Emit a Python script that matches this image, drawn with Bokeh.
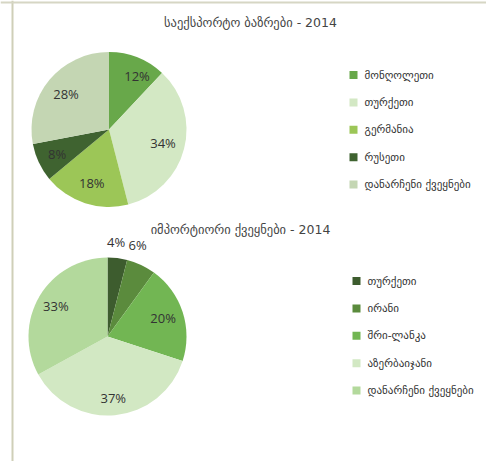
import math
from bokeh.plotting import figure
from bokeh.models import Range1d, Span
from bokeh.core.properties import value
from bokeh.embed import file_html
from bokeh.resources import INLINE

W, H = 486, 461

# ---- data ----
export_title = "საექსპორტო ბაზრები - 2014"
export_countries = ["მონღოლეთი", "თურქეთი", "გერმანია", "რუსეთი", "დანარჩენი ქვეყნები"]
export_shares = [12, 34, 18, 8, 28]
export_colors = ["#68a84a", "#d3e8c4", "#9cc657", "#3f6330", "#c4d6b3"]

import_title = "იმპორტიორი ქვეყნები - 2014"
import_countries = ["თურქეთი", "ირანი", "შრი-ლანკა", "აზერბაიჯანი", "დანარჩენი ქვეყნები"]
import_shares = [4, 6, 20, 37, 33]
import_colors = ["#3d5c2e", "#5b8b3d", "#72b653", "#d2e8c3", "#b3d99c"]

p = figure(width=W, height=H, x_range=Range1d(0, W), y_range=Range1d(0, H),
           output_backend="svg", toolbar_location=None, min_border=0)
p.axis.visible = False
p.grid.visible = False
p.outline_line_color = None
p.background_fill_color = "white"
p.border_fill_color = "white"

# frame lines
p.add_layout(Span(location=12, dimension="height", line_color="#cfcfb8", line_width=2))
p.add_layout(Span(location=H - 2, dimension="width", line_color="#d6d6c4", line_width=2))

FONT = "Open Sans"
GFONT = "DejaVu Sans"


def pie(cx, cy_screen, r, shares, colors, label_r, label_shift, title, title_xy,
        countries, leg_x, leg_y0, leg_dy):
    cy = H - cy_screen
    total = float(sum(shares))
    cum = 0.0
    starts, ends, lx, ly, labels = [], [], [], [], []
    for i, s in enumerate(shares):
        a0 = math.pi / 2 - 2 * math.pi * cum / total
        a1 = math.pi / 2 - 2 * math.pi * (cum + s) / total
        mid = (a0 + a1) / 2 + math.radians(label_shift[i])
        starts.append(a1)
        ends.append(a0)
        lr = label_r[i] * r
        lx.append(cx + lr * math.cos(mid))
        ly.append(cy + lr * math.sin(mid))
        labels.append(f"{s}%")
        cum += s
    p.wedge(x=[cx] * len(shares), y=[cy] * len(shares), radius=r,
            start_angle=starts, end_angle=ends, direction="anticlock",
            fill_color=colors, line_color=None)
    p.text(x=lx, y=ly, text=labels, text_align="center", text_baseline="middle",
           text_font=value(FONT), text_font_size="13px", text_color="#333333")
    p.text(x=[title_xy[0]], y=[H - title_xy[1]], text=[title], text_align="center",
           text_baseline="middle", text_font=value(GFONT), text_font_size="12.5px",
           text_color="#444444")
    ys = [H - (leg_y0 + i * leg_dy) for i in range(len(countries))]
    p.scatter(x=[leg_x] * len(countries), y=ys, marker="square", size=8,
              fill_color=colors, line_color=None)
    p.text(x=[leg_x + 11] * len(countries), y=ys, text=countries, text_align="left",
           text_baseline="middle", text_font=value(GFONT), text_font_size="11px",
           text_color="#333333")


pie(108.5, 129, 77.5, export_shares, export_colors, [0.78, 0.72, 0.72, 0.74, 0.72],
    [-6, 0, 0, 0, 0], export_title, (250, 22), export_countries, 353, 74.5, 27.4)
pie(107, 336, 79, import_shares, import_colors, [1.2, 1.22, 0.74, 0.78, 0.76],
    [2, 7, 0, 0, 0], import_title, (240, 229), import_countries, 356, 280.5, 27.4)

open("out.html", "w").write(file_html(p, INLINE))
